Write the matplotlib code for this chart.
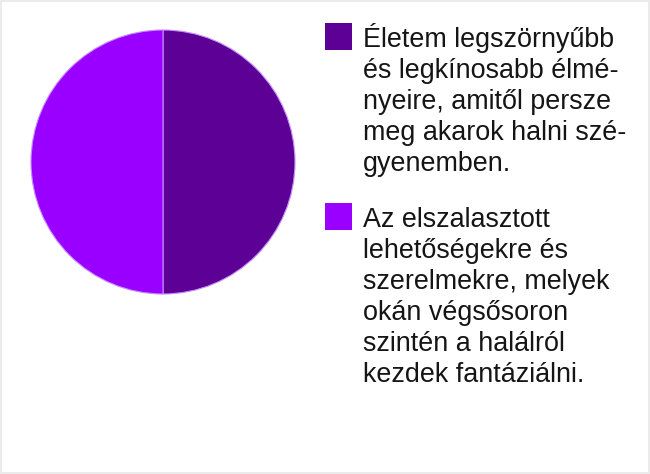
import matplotlib
matplotlib.use("Agg")
import matplotlib.pyplot as plt
from matplotlib.patches import Rectangle

shares = [50, 50]
colors = ["#5c0096", "#9a00ff"]
labels = [
    ["Életem legszörnyűbb", "és legkínosabb élmé-", "nyeire, amitől persze",
     "meg akarok halni szé-", "gyenemben."],
    ["Az elszalasztott", "lehetőségekre és", "szerelmekre, melyek",
     "okán végsősoron", "szintén a halálról", "kezdek fantáziálni."],
]

W, H = 650, 474
fig = plt.figure(figsize=(W / 100, H / 100), dpi=100)
fig.patch.set_facecolor("white")
fig.patch.set_edgecolor("#ebebeb")
fig.patch.set_linewidth(1.5)

# pie centre (163, 162) px from top-left, radius 132 px
cx, cy, r = 163, 162, 132
ax = fig.add_axes([(cx - r) / W, (H - cy - r) / H, 2 * r / W, 2 * r / H])
ax.pie(shares, colors=colors, startangle=90, counterclock=False,
       wedgeprops=dict(edgecolor="#c78cff", linewidth=0.8))
ax.set_xlim(-1, 1)
ax.set_ylim(-1, 1)
ax.set_aspect("auto")
ax.axis("off")

# legend: square + label lines, square aligned to the first line
box_x, text_x = 325, 363
first_baselines = [47, 227]
box_tops = [23, 203]
sq = 27
step = 31
for lines, col, base, top in zip(labels, colors, first_baselines, box_tops):
    fig.patches.append(Rectangle((box_x / W, (H - top - sq) / H), sq / W, sq / H,
                                 transform=fig.transFigure, facecolor=col,
                                 edgecolor="none"))
    for i, line in enumerate(lines):
        fig.text(text_x / W, (H - base - i * step) / H, line, ha="left",
                 va="baseline", fontsize=19.4, family="Liberation Sans",
                 color="#151515")

fig.savefig("out.png", dpi=100)
